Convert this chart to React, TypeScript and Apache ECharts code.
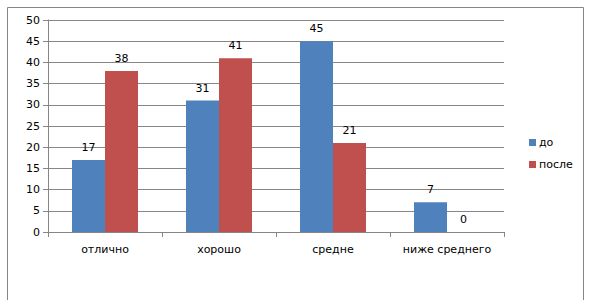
import React, { useEffect, useRef } from "react";
import * as echarts from "echarts";

const categories = ["отлично", "хорошо", "средне", "ниже среднего"];
const beforeValues = [17, 31, 45, 7];
const afterValues = [38, 41, 21, 0];
const seriesNames = ["до", "после"];

export default function App() {
  const ref = useRef<HTMLDivElement>(null);
  useEffect(() => {
    if (!ref.current) return;
    const chart = echarts.init(ref.current, undefined, { renderer: "svg" });
    const font = "'DejaVu Sans', Verdana, sans-serif";
    const labelStyle = {
      show: true,
      position: "top" as const,
      distance: 7,
      color: "#000",
      fontSize: 11,
      fontFamily: font,
    };
    chart.setOption({
      animation: false,
      backgroundColor: "#fff",
      textStyle: { fontFamily: font },
      grid: { left: 48, top: 20, right: 89, bottom: 76, containLabel: false },
      legend: {
        orient: "vertical",
        left: 524,
        top: 132,
        itemWidth: 7,
        itemHeight: 7,
        itemGap: 11,
        icon: "rect",
        textStyle: { fontSize: 11, color: "#000", fontFamily: font, padding: [0, 0, 0, -2] },
        data: seriesNames,
      },
      xAxis: {
        type: "category",
        data: categories,
        axisLine: { lineStyle: { color: "#868686" } },
        axisTick: { show: true, length: 5, lineStyle: { color: "#868686" } },
        axisLabel: { color: "#000", fontSize: 11, fontFamily: font, margin: 12, interval: 0 },
      },
      yAxis: {
        type: "value",
        min: 0,
        max: 50,
        interval: 5,
        axisLine: { show: true, lineStyle: { color: "#868686" } },
        axisTick: { show: true, length: 5, lineStyle: { color: "#868686" } },
        axisLabel: { color: "#000", fontSize: 11, fontFamily: font, margin: 8 },
        splitLine: { show: true, lineStyle: { color: "#868686" } },
      },
      series: [
        {
          name: seriesNames[0],
          type: "bar",
          data: beforeValues,
          barWidth: 33,
          barGap: "0%",
          itemStyle: { color: "#4F81BD" },
          label: labelStyle,
        },
        {
          name: seriesNames[1],
          type: "bar",
          data: afterValues,
          barWidth: 33,
          barGap: "0%",
          itemStyle: { color: "#C0504D" },
          label: labelStyle,
        },
      ],
      graphic: [
        {
          type: "polyline",
          shape: { points: [[7.5, 300], [7.5, 7.5], [583.5, 7.5], [583.5, 300]] },
          style: { stroke: "#868686", fill: "none", lineWidth: 1 },
          silent: true,
        },
      ],
    });
    return () => chart.dispose();
  }, []);
  return (
    <div
      ref={ref}
      style={{ position: "fixed", left: 0, top: 0, width: 593, height: 308 }}
    />
  );
}
